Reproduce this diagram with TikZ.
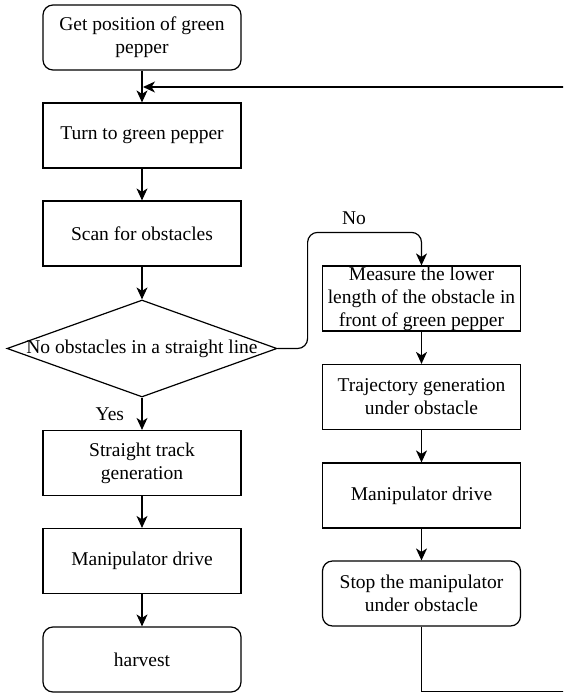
\documentclass[tikz,border=0pt]{standalone}
\usepackage{fontspec}
\setmainfont{Liberation Serif}
\usetikzlibrary{shapes.geometric,arrows.meta}
\begin{document}
\begin{tikzpicture}[x=1pt,y=-1pt,
  every node/.style={font=\fontsize{19.5}{23}\selectfont},
  box/.style={draw, line width=1.2pt, minimum width=198pt, minimum height=65pt, align=center, inner sep=0pt},
  rbox/.style={box, rounded corners=10pt},
  dec/.style={draw, diamond, line width=1.2pt, minimum width=270pt, minimum height=97pt, inner sep=0pt},
  arr/.style={draw, line width=1.2pt, -{Stealth[length=12pt,width=11pt,inset=3.5pt]}},
  ln/.style={draw, line width=1.2pt}]
\useasboundingbox (0,0) rectangle (563,693);
\clip (0,0) rectangle (563,693);
% left column
\node[rbox] (b1) at (142,37.5) {Get position of green\\pepper};
\node[box] (b2) at (142,135.5) {Turn to green pepper};
\node[box] (b3) at (142,233.5) {Scan for obstacles};
\node[dec, label=center:{No obstacles in a straight line}] (d) at (142,348.5) {};
\node[box] (s1) at (142,463) {Straight track\\generation};
\node[box] (m1) at (142,561) {Manipulator drive};
\node[rbox] (h) at (142,659.5) {harvest};
% right column
\node[box] (meas) at (421.5,298.5) {Measure the lower\\length of the obstacle in\\front of green pepper};
\node[box] (traj) at (421.5,397) {Trajectory generation\\under obstacle};
\node[box] (m2) at (421.5,495.5) {Manipulator drive};
\node[rbox] (stop) at (421.5,593.5) {Stop the manipulator\\under obstacle};
% labels
\node (nolab) at (354,218) {No};
\coordinate (loopin) at (143,87);
% connectors
\draw[arr] (b1) -- (b2);
\draw[arr] (b2) -- (b3);
\draw[arr] (b3) -- (d);
\draw[arr] (d) -- node[left=14pt] {Yes} (s1);
\draw[arr] (s1) -- (m1);
\draw[arr] (m1) -- (h);
\draw[arr, rounded corners=10pt] (d.east) -- ++(30,0) |- ([yshift=33pt]meas.north) -- (meas.north);
\draw[arr] (meas) -- (traj);
\draw[arr] (traj) -- (m2);
\draw[arr] (m2) -- (stop);
\draw[arr] (stop.south) -- ++(0,65) -- ++(200,0) |- (loopin);
\end{tikzpicture}
\end{document}
